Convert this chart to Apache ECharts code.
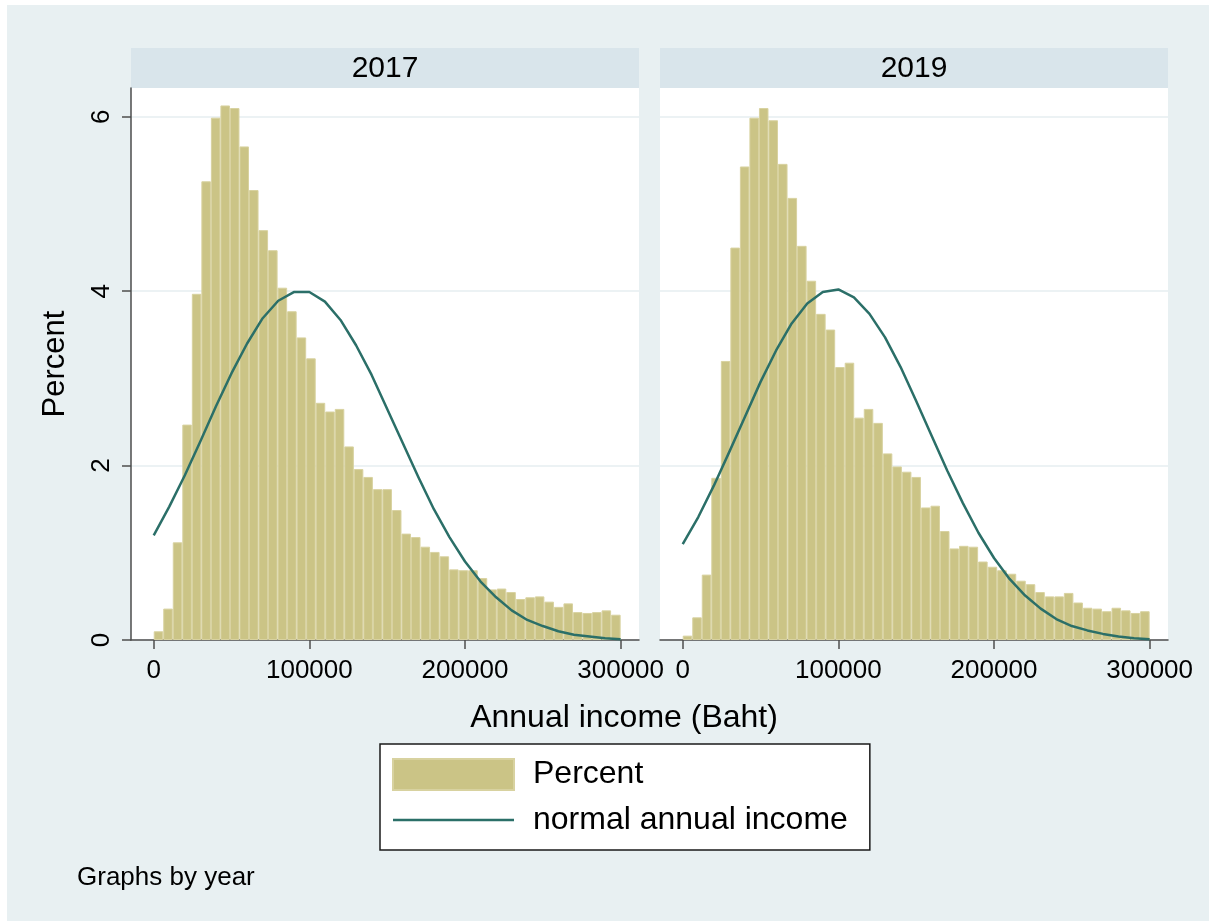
<!DOCTYPE html>
<html>
<head>
<meta charset="utf-8">
<title>Annual income by year</title>
<script src="https://cdn.jsdelivr.net/npm/echarts@6/dist/echarts.min.js"></script>
<style>
  html, body { margin: 0; padding: 0; background: #fff; }
  #chart { width: 1209px; height: 921px; }
</style>
</head>
<body>
<div id="chart"></div>
<script>
const years = ['2017', '2019']
const binCount = 49
const incomeMax = 300000
const xTicks = [0, 100000, 200000, 300000]
const yTicks = [0, 2, 4, 6]

// percent of households in each income bin
const percent2017 = [
  0.10, 0.36, 1.12, 2.47, 3.97, 5.26, 5.99, 6.13, 6.10, 5.66,
  5.16, 4.70, 4.47, 4.04, 3.77, 3.47, 3.23, 2.72, 2.62, 2.65,
  2.22, 1.96, 1.87, 1.73, 1.73, 1.49, 1.22, 1.18, 1.07, 1.01,
  0.96, 0.81, 0.80, 0.80, 0.71, 0.58, 0.59, 0.55, 0.47, 0.49,
  0.50, 0.44, 0.38, 0.42, 0.32, 0.31, 0.32, 0.34, 0.29
]
const percent2019 = [
  0.05, 0.26, 0.75, 1.86, 3.20, 4.50, 5.43, 5.99, 6.10, 5.96,
  5.46, 5.07, 4.52, 4.12, 3.74, 3.56, 3.13, 3.18, 2.55, 2.65,
  2.49, 2.14, 1.99, 1.93, 1.87, 1.52, 1.54, 1.25, 1.05, 1.08,
  1.07, 0.90, 0.84, 0.80, 0.76, 0.68, 0.64, 0.55, 0.50, 0.50,
  0.54, 0.43, 0.37, 0.36, 0.33, 0.37, 0.34, 0.31, 0.33
]

// normal curve, read every 10000 baht
const curveX = [
  0, 10000, 20000, 30000, 40000, 50000, 60000, 70000, 80000, 90000, 100000,
  110000, 120000, 130000, 140000, 150000, 160000, 170000, 180000, 190000, 200000,
  210000, 220000, 230000, 240000, 250000, 260000, 270000, 280000, 290000, 300000
]
const normal2017 = [
  1.20, 1.53, 1.89, 2.28, 2.68, 3.06, 3.40, 3.69, 3.89, 3.99, 3.99,
  3.88, 3.67, 3.38, 3.04, 2.65, 2.26, 1.87, 1.50, 1.18, 0.90,
  0.67, 0.49, 0.34, 0.23, 0.16, 0.10, 0.06, 0.04, 0.02, 0.01
]
const normal2019 = [
  1.10, 1.41, 1.77, 2.16, 2.56, 2.96, 3.32, 3.63, 3.86, 3.99, 4.02,
  3.93, 3.74, 3.47, 3.13, 2.74, 2.34, 1.94, 1.57, 1.23, 0.94,
  0.70, 0.51, 0.36, 0.24, 0.16, 0.11, 0.07, 0.04, 0.02, 0.01
]

const font = "'Liberation Sans', Arial, sans-serif"
const axisColor = '#4d4d4d'
const barColor = '#cbc486'
const lineColor = '#2b6f68'

const binWidth = incomeMax / binCount
const toBars = vals => vals.map((v, i) => [(i + 0.5) * binWidth, v])
const toCurve = vals => vals.map((v, i) => [curveX[i], v])

const panelLeft = [131, 660]
const panelWidth = 508

function makeXAxis(idx) {
  return {
    type: 'value',
    gridIndex: idx,
    min: -14600,
    max: 311800,
    axisLine: { onZero: false, lineStyle: { color: axisColor, width: 1.5 } },
    axisTick: { customValues: xTicks, length: 9, lineStyle: { color: axisColor, width: 1.5 } },
    axisLabel: {
      customValues: xTicks, fontSize: 26, color: '#000', margin: 18, fontFamily: font,
      formatter: v => String(v)
    },
    splitLine: { show: false }
  }
}

function makeYAxis(idx) {
  const first = idx === 0
  return {
    type: 'value',
    gridIndex: idx,
    min: 0,
    max: 6.33,
    interval: 2,
    name: first ? 'Percent' : '',
    nameLocation: 'middle',
    nameGap: 60,
    nameTextStyle: { fontSize: 31, color: '#000', fontFamily: font },
    axisLine: { show: first, onZero: false, lineStyle: { color: axisColor, width: 1.5 } },
    axisTick: { show: first, customValues: yTicks, length: 9, lineStyle: { color: axisColor, width: 1.5 } },
    axisLabel: { show: first, customValues: yTicks, rotate: 90, fontSize: 26, color: '#000', margin: 16, fontFamily: font },
    splitLine: { show: true, lineStyle: { color: '#e6eef1', width: 1.5 } }
  }
}

const chart = echarts.init(document.getElementById('chart'), null, { renderer: 'canvas' })

const graphics = [
  { type: 'rect', z: -100, shape: { x: 7, y: 5, width: 1202, height: 916 }, style: { fill: '#e8f0f2' } }
]
years.forEach((y, i) => {
  graphics.push({
    type: 'rect',
    shape: { x: panelLeft[i], y: 48, width: panelWidth, height: 40 },
    style: { fill: '#d9e5eb' }
  })
  graphics.push({
    type: 'text',
    x: panelLeft[i] + panelWidth / 2,
    y: 69,
    style: { text: y, fontSize: 30, fontFamily: font, fill: '#000', align: 'center', verticalAlign: 'middle' }
  })
})
graphics.push({
  type: 'text', x: 624, y: 718,
  style: { text: 'Annual income (Baht)', fontSize: 32, fontFamily: font, fill: '#000', align: 'center', verticalAlign: 'middle' }
})
graphics.push({
  type: 'text', x: 77, y: 878,
  style: { text: 'Graphs by year', fontSize: 26, fontFamily: font, fill: '#000', align: 'left', verticalAlign: 'middle' }
})

const option = {
  animation: false,
  backgroundColor: '#fff',
  textStyle: { fontFamily: font },
  grid: panelLeft.map(left => ({
    left: left,
    top: 88,
    width: panelWidth,
    height: 552,
    show: true,
    backgroundColor: '#fff',
    borderWidth: 0
  })),
  xAxis: [makeXAxis(0), makeXAxis(1)],
  yAxis: [makeYAxis(0), makeYAxis(1)],
  legend: {
    orient: 'vertical',
    left: 380,
    top: 744,
    itemWidth: 121,
    itemHeight: 31,
    itemGap: 13,
    padding: [14, 22, 14, 12],
    backgroundColor: '#fff',
    borderColor: '#1a1a1a',
    borderWidth: 1.5,
    selectedMode: false,
    textStyle: { fontSize: 32, color: '#000', fontFamily: font, padding: [0, 0, 0, 14] },
    data: [
      { name: 'Percent', icon: 'rect' },
      {
        name: 'normal annual income',
        icon: 'path://M0,0 L121,0 L121,2.5 L0,2.5 Z',
        itemStyle: { color: lineColor, borderWidth: 0 }
      }
    ]
  },
  graphic: graphics,
  series: [
    {
      type: 'bar', name: 'Percent', xAxisIndex: 0, yAxisIndex: 0,
      data: toBars(percent2017), barWidth: 9.53,
      itemStyle: { color: barColor, borderColor: '#d8d2a0', borderWidth: 1 }
    },
    {
      type: 'bar', name: 'Percent', xAxisIndex: 1, yAxisIndex: 1,
      data: toBars(percent2019), barWidth: 9.53,
      itemStyle: { color: barColor, borderColor: '#d8d2a0', borderWidth: 1 }
    },
    {
      type: 'line', name: 'normal annual income', xAxisIndex: 0, yAxisIndex: 0,
      data: toCurve(normal2017), smooth: false, symbol: 'none', z: 3,
      lineStyle: { color: lineColor, width: 2.5, join: 'round' }, itemStyle: { color: lineColor }
    },
    {
      type: 'line', name: 'normal annual income', xAxisIndex: 1, yAxisIndex: 1,
      data: toCurve(normal2019), smooth: false, symbol: 'none', z: 3,
      lineStyle: { color: lineColor, width: 2.5, join: 'round' }, itemStyle: { color: lineColor }
    }
  ]
}

chart.setOption(option)
</script>
</body>
</html>
